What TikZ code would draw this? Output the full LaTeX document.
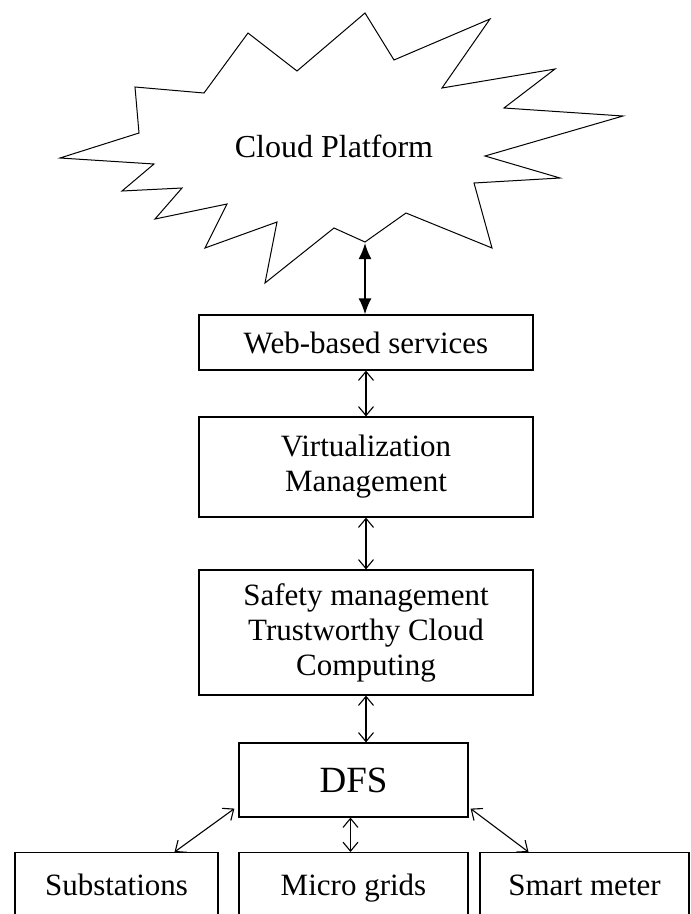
\documentclass[tikz,border=0pt]{standalone}
\usepackage{fontspec}
\setmainfont{Liberation Serif}
\usetikzlibrary{arrows.meta}
\tikzset{>={Straight Barb[length=9pt,width=15pt]}}

\begin{document}
\begin{tikzpicture}[x=1pt, y=-1pt, line width=1.2pt,
    box/.style={draw, rectangle, inner sep=0pt, align=center, font=\fontsize{31}{35}\selectfont},
    link/.style={<->, line width=1.1pt}]
    \useasboundingbox (0,0) rectangle (691,914);
    \clip (0,0) rectangle (691,914);
    % cloud
    \draw[line width=1pt, line join=miter]
    (365,13) -- (394,60) -- (490,19) -- (442,88) -- (555,69) -- (504,108) -- (623,116)
    -- (485,156) -- (560,178) -- (474,183) -- (492,248) -- (406,213) -- (365,242)
    -- (334,228) -- (265,283) -- (277,222) -- (205,248) -- (227,204) -- (155,219)
    -- (182,188) -- (122,191) -- (154,164) -- (60,158) -- (139,133) -- (135,87)
    -- (204,93) -- (248,33) -- (297,71) -- cycle;
    \node[font=\fontsize{32}{35}\selectfont] (cloud) at (334,146) {Cloud Platform};
    \coordinate (tip) at (365,243);
    % boxes
    \node[box, minimum width=334pt, minimum height=55pt] (web) at (366,342.5) {Web-based services};
    \node[box, minimum width=334pt, minimum height=100pt] (virt) at (366,467) {Virtualization\\Management};
    \node[box, minimum width=334pt, minimum height=125pt] (safe) at (366,632.5) {Safety management\\Trustworthy Cloud\\Computing};
    \node[box, minimum width=229pt, minimum height=74pt, font=\fontsize{37}{40}\selectfont] (dfs) at (353.5,780) {DFS};
    \node[box, anchor=north, minimum width=203pt, text height=43pt, text depth=80pt] (sub) at (116.5,852) {Substations};
    \node[box, anchor=north, minimum width=229pt, text height=43pt, text depth=80pt] (mic) at (353.5,852) {Micro grids};
    \node[box, anchor=north, minimum width=209pt, text height=43pt, text depth=80pt] (smart) at (584.5,852) {Smart meter};
    % links
    \draw[<->, >={Latex[length=16pt,width=13pt]}, line width=1.8pt] (tip) -- (tip |- web.north);
    \draw[link] (web.south) -- (virt.north);
    \draw[link] (virt.south) -- (safe.north);
    \draw[link] (safe.south) -- (safe.south |- dfs.north);
    \draw[link] ([xshift=-3pt]dfs.south) -- ([xshift=-3pt]dfs.south |- mic.north);
    \draw[link] ([shift={(-4,-9)}]dfs.south west) -- ([xshift=58pt]sub.north);
    \draw[link] ([shift={(2,-9)}]dfs.south east) -- ([xshift=-56pt]smart.north);
\end{tikzpicture}
\end{document}
